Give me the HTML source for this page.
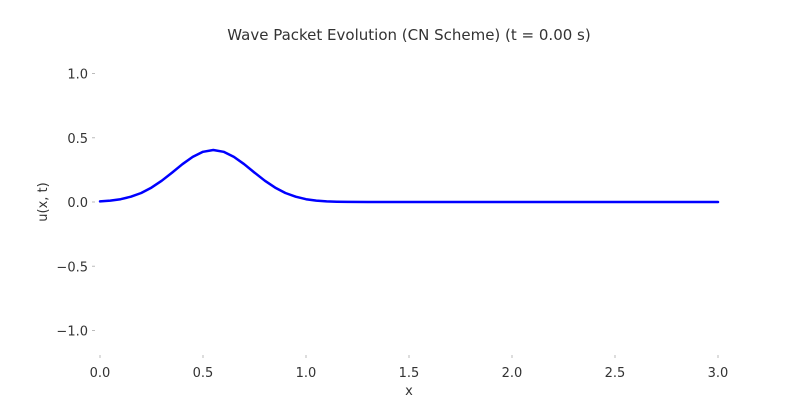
<!DOCTYPE html>
<html><head><meta charset="utf-8"><style>
html,body{margin:0;padding:0;background:#fff}
svg{display:block;font-family:"DejaVu Sans","Liberation Sans",sans-serif}
</style></head><body>
<svg id="chart" width="800" height="400">
<text x="409" y="40" text-anchor="middle" font-size="15" fill="#333">Wave Packet Evolution (CN Scheme) (t = 0.00 s)</text>
<g id="yticks"></g>
<g id="xticks"></g>
<text x="409" y="395" text-anchor="middle" font-size="13" fill="#333">x</text>
<text transform="translate(47,202) rotate(-90)" text-anchor="middle" font-size="13" fill="#333">u(x, t)</text>
<path id="line" fill="none" stroke="#0000ff" stroke-width="2.5" stroke-linejoin="round" stroke-linecap="round"/>
</svg>
<script>
const xValues=[0,0.05,0.1,0.15,0.2,0.25,0.3,0.35,0.4,0.45,0.5,0.55,0.6,0.65,0.7,0.75,0.8,0.85,0.9,0.95,1.0,1.05,1.1,1.15,1.2,1.3,1.5,2.0,2.5,3.0];
const uValues=[0.005,0.011,0.022,0.041,0.070,0.112,0.166,0.229,0.294,0.351,0.391,0.405,0.391,0.351,0.294,0.229,0.166,0.112,0.070,0.041,0.022,0.011,0.005,0.002,0.001,0,0,0,0,0];
const xTicks=[0,0.5,1.0,1.5,2.0,2.5,3.0];
const yTicks=[-1.0,-0.5,0.0,0.5,1.0];
const sx=v=>100+v*206;
const sy=v=>202-v*128.5;
const ns="http://www.w3.org/2000/svg";
const yg=document.getElementById('yticks'), xg=document.getElementById('xticks');
yTicks.forEach(v=>{
  const t=document.createElementNS(ns,'text');
  
  
  t.setAttribute('x',88);t.setAttribute('y',sy(v)+5);
  t.setAttribute('text-anchor','end');t.setAttribute('font-size','13');t.setAttribute('fill','#333');
  t.textContent=(v<0?'\u2212':'')+Math.abs(v).toFixed(1);
  yg.appendChild(t);
  const l=document.createElementNS(ns,'line');
  
  
  l.setAttribute('x1',92);l.setAttribute('x2',95);l.setAttribute('y1',sy(v));l.setAttribute('y2',sy(v));
  l.setAttribute('stroke','#bbb');
  yg.appendChild(l);
});
xTicks.forEach(v=>{
  const t=document.createElementNS(ns,'text');
  
  
  t.setAttribute('x',sx(v));t.setAttribute('y',377);
  t.setAttribute('text-anchor','middle');t.setAttribute('font-size','13');t.setAttribute('fill','#333');
  t.textContent=v.toFixed(1);
  xg.appendChild(t);
  const l=document.createElementNS(ns,'line');
  
  
  l.setAttribute('x1',sx(v));l.setAttribute('x2',sx(v));l.setAttribute('y1',355);l.setAttribute('y2',358);
  l.setAttribute('stroke','#bbb');
  xg.appendChild(l);
});
document.getElementById('line').setAttribute('d',xValues.map((x,i)=>(i?'L':'M')+sx(x).toFixed(1)+','+sy(uValues[i]).toFixed(1)).join(''));
</script>
</body></html>
